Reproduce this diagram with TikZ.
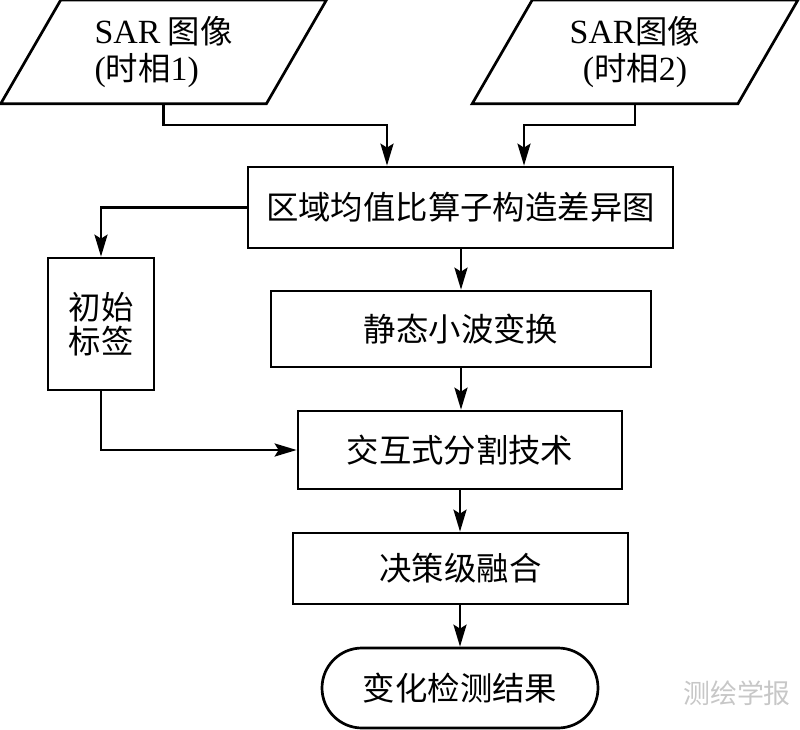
\documentclass[tikz,border=0pt]{standalone}
\usepackage{fontspec}
\setmainfont{Noto Sans CJK SC}
\newfontfamily\latin{Liberation Serif}
\newcommand{\lt}[1]{{\latin\fontsize{34}{38}\selectfont #1}}
\usetikzlibrary{arrows.meta}

\begin{document}
\begin{tikzpicture}[x=1bp, y=-1bp, line width=2.7bp,
        font=\fontsize{32.5}{38}\selectfont,
        arr/.style={-{Stealth[length=22bp,width=13bp,inset=4bp]}},
        box/.style={draw, rectangle, inner sep=0pt, align=center},
        io/.style={rectangle, inner sep=0pt, minimum width=263bp, minimum height=101bp}]
        \useasboundingbox (0,0) rectangle (800,730);
        % input images
        \node[io, align=left] (img1) at (163.5, 52) {\lt{SAR} 图像\\\lt{(}时相\lt{1)}};
        \node[io, align=center] (img2) at (635, 52) {\lt{SAR}图像\\\lt{(}时相\lt{2)}};
        \foreach \n in {img1, img2}
            \draw ([xshift=30bp]\n.north west) -- ([xshift=30bp]\n.north east)
                -- ([xshift=-30bp]\n.south east) -- ([xshift=-30bp]\n.south west) -- cycle;
        % processing steps
        \node[box, minimum width=425bp, minimum height=81bp] (diff) at (460.5, 207.5) {区域均值比算子构造差异图};
        \node[box, minimum width=106bp, minimum height=132bp] (lbl) at (101, 324) {初始\\[-4bp]标签};
        \node[box, minimum width=380bp, minimum height=76bp] (swt) at (461, 329) {静态小波变换};
        \node[box, minimum width=324bp, minimum height=78bp] (seg) at (460, 450) {交互式分割技术};
        \node[box, minimum width=335bp, minimum height=71bp] (fuse) at (460.5, 568.5) {决策级融合};
        \node[box, rounded corners=40bp, minimum width=276bp, minimum height=80bp] (res) at (460, 688) {变化检测结果};
        % connectors
        \draw[arr] (img1.south) -- ++(0,21) -| ([xshift=-73.5bp]diff.north);
        \draw[arr] (img2.south) -- ++(0,21) -| ([xshift=63.5bp]diff.north);
        \draw[arr] (diff.west) -| (lbl.north);
        \draw[arr] (diff.south -| swt.north) -- (swt.north);
        \draw[arr] (lbl.south) |- (seg.west);
        \draw[arr] (swt.south) -- (swt.south |- seg.north);
        \draw[arr] (seg.south) -- (fuse.north -| seg.south);
        \draw[arr] (fuse.south -| res.north) -- (res.north);
        \node[text=black!22, font=\fontsize{27}{30}\selectfont] (mark) at (737, 693) {测绘学报};
\end{tikzpicture}
\end{document}
